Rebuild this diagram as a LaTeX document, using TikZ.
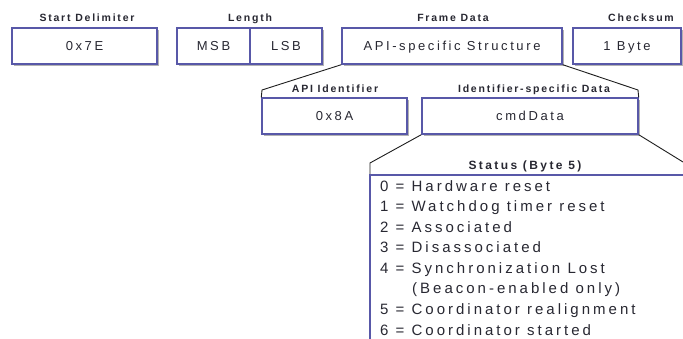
\documentclass[tikz,border=0pt]{standalone}
\usepackage{fontspec}
\setmainfont{Liberation Sans}
\usetikzlibrary{shadows}
\definecolor{boxblue}{RGB}{88,88,168}
\definecolor{shadowgray}{RGB}{178,178,178}
\definecolor{txt}{RGB}{40,40,50}
\definecolor{conn}{RGB}{30,30,30}
\newfontfamily\spacedfont[LetterSpace=20]{Liberation Sans}
\newfontfamily\labspacedfont[LetterSpace=17]{Liberation Sans}
\newcommand\labfont{\labspacedfont\fontsize{10.5}{12}\selectfont\bfseries}
\newcommand\titlefont{\spacedfont\fontsize{12}{14}\selectfont\bfseries}
\newcommand\boxfont{\spacedfont\fontsize{13}{15}\selectfont}
\newcommand\listfont{\spacedfont\fontsize{15}{18}\selectfont}
\tikzset{
  fieldbox/.style={draw=boxblue, line width=1.4pt, fill=white, inner sep=0pt,
    text=txt, font=\boxfont, text height=9.3pt, text depth=0pt,
    general shadow={shadow xshift=1.6pt, shadow yshift=-1.6pt, fill=shadowgray}},
  fieldlabel/.style={anchor=base, inner sep=0pt, text=txt, font=\labfont},
  statustitle/.style={anchor=base, inner sep=0pt, text=txt, font=\titlefont},
  listline/.style={anchor=base west, inner sep=0pt, text=txt, font=\listfont},
  connector/.style={draw=conn, line width=0.9pt},
  edge/.style={draw=boxblue, line width=1.4pt}
}
\begin{document}
\begin{tikzpicture}[x=1pt,y=-1pt]
\useasboundingbox (0,0) rectangle (683,339);
\fill[white] (0,0) rectangle (683,339);

% top row labels
\node[fieldlabel] (sdl) at (87,22) {Start Delimiter};
\node[fieldlabel] (lenl) at (250,22) {Length};
\node[fieldlabel] (fdl) at (453,22) {Frame Data};
\node[fieldlabel] (csl) at (641,22) {Checksum};

% top row boxes
\node[fieldbox, minimum width=145pt, minimum height=36pt] (sd) at (84.5,46) {0x7E};
\node[fieldbox, minimum width=73pt, minimum height=36pt] (msb) at (213.5,46) {MSB};
\node[fieldbox, minimum width=72pt, minimum height=36pt] (lsb) at (286,46) {LSB};
\node[fieldbox, minimum width=220pt, minimum height=36pt] (frame) at (452,46) {API-specific Structure};
\node[fieldbox, minimum width=108pt, minimum height=36pt] (cs) at (627,46) {1 Byte};

% second row
\node[fieldlabel] (apil) at (335,93) {API Identifier};
\node[fieldlabel] (idsl) at (534,93) {Identifier-specific Data};
\node[fieldbox, minimum width=145pt, minimum height=36pt] (api) at (334.5,116) {0x8A};
\node[fieldbox, minimum width=216pt, minimum height=36pt] (ids) at (530,116) {cmdData};

% brackets from frame data
\coordinate (k1) at (262,90);
\coordinate (k2) at (638,90);
\draw[connector] (frame.south west) -- (k1) -- (api.north west);
\draw[connector] (frame.south east) -- (k2) -- (ids.north east);

% status box
\coordinate (s1) at (370,163);
\coordinate (sl) at (370,175);
\coordinate (sr) at (683,175);
\coordinate (sb) at (370,340);
\coordinate (s2) at (683,162);
\draw[connector] (ids.south west) -- (s1) -- (sl);
\draw[connector] (ids.south east) -- (s2);
\draw[edge] (sr) -- (sl) -- (sb);

\node[statustitle] (st) at (525,170) {Status (Byte 5)};
\node[listline] (l0) at (380,191.5) {0 = Hardware reset};
\node[listline] (l1) at (380,212) {1 = Watchdog timer reset};
\node[listline] (l2) at (380,232.5) {2 = Associated};
\node[listline] (l3) at (380,253) {3 = Disassociated};
\node[listline] (l4) at (380,273.5) {4 = Synchronization Lost};
\node[listline] (l4b) at (412,294) {(Beacon-enabled only)};
\node[listline] (l5) at (380,314.5) {5 = Coordinator realignment};
\node[listline] (l6) at (380,335) {6 = Coordinator started};
\end{tikzpicture}
\end{document}
